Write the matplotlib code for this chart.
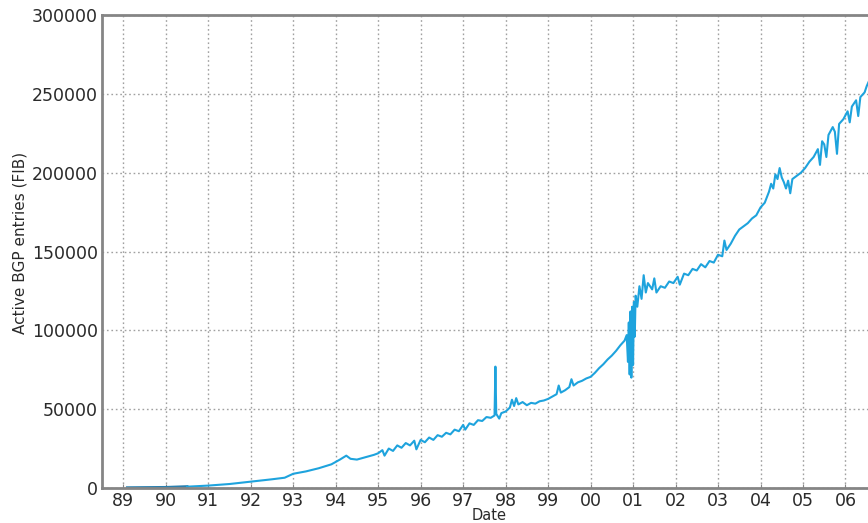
import matplotlib
matplotlib.use('Agg')
import matplotlib.pyplot as plt
import numpy as np

plt.rcParams['font.family'] = ['DejaVu Sans']

# Datos (año decimal, entradas BGP activas)
fechas = [
    1989.1, 1989.5, 1990.0, 1990.5, 1991.0, 1991.5, 1992.0, 1992.5, 1992.8,
    1993.0, 1993.3, 1993.6, 1993.9, 1994.1, 1994.25, 1994.35, 1994.5, 1994.7,
    1994.9, 1995.0, 1995.1, 1995.15, 1995.25, 1995.35, 1995.45, 1995.55,
    1995.65, 1995.75, 1995.85, 1995.9, 1996.0, 1996.1, 1996.2, 1996.3, 1996.4,
    1996.5, 1996.6, 1996.7, 1996.8, 1996.9, 1997.0, 1997.05, 1997.15, 1997.25,
    1997.35, 1997.45, 1997.55, 1997.65, 1997.74, 1997.76, 1997.78, 1997.85,
    1997.9, 1998.0, 1998.1, 1998.15, 1998.2, 1998.25, 1998.3, 1998.4, 1998.5,
    1998.6, 1998.7, 1998.8, 1998.9, 1999.0, 1999.1, 1999.2, 1999.25, 1999.3,
    1999.4, 1999.5, 1999.55, 1999.6, 1999.7, 1999.8, 1999.9, 2000.0, 2000.1,
    2000.2, 2000.3, 2000.4, 2000.5, 2000.6, 2000.7, 2000.8, 2000.85, 2000.88,
    2000.9, 2000.92, 2000.94, 2000.96, 2000.98, 2001.0, 2001.02, 2001.04,
    2001.06, 2001.1, 2001.15, 2001.2, 2001.25, 2001.3, 2001.35, 2001.45,
    2001.5, 2001.55, 2001.65, 2001.75, 2001.85, 2001.95, 2002.05, 2002.1,
    2002.2, 2002.3, 2002.4, 2002.5, 2002.6, 2002.7, 2002.8, 2002.9, 2003.0,
    2003.1, 2003.15, 2003.2, 2003.3, 2003.4, 2003.5, 2003.6, 2003.7, 2003.8,
    2003.9, 2004.0, 2004.1, 2004.2, 2004.25, 2004.3, 2004.35, 2004.4, 2004.45,
    2004.5, 2004.55, 2004.6, 2004.65, 2004.7, 2004.75, 2004.85, 2004.95,
    2005.05, 2005.15, 2005.25, 2005.35, 2005.4, 2005.45, 2005.5, 2005.55,
    2005.6, 2005.7, 2005.75, 2005.8, 2005.85, 2005.95, 2006.05, 2006.1,
    2006.15, 2006.25, 2006.3, 2006.35, 2006.45, 2006.5, 2006.55,
]
entradas = [
    100, 200, 300, 800, 1500, 2500, 4000, 5500, 6500,
    9000, 10500, 12500, 15000, 18000, 20500, 18500, 18000, 19500,
    21000, 22000, 24000, 20500, 25000, 23500, 27000, 25500,
    28500, 27000, 30000, 24500, 30500, 29000, 32000, 30500, 33500,
    32500, 35000, 34000, 37000, 36000, 40000, 37000, 41000, 40000,
    43000, 42500, 45000, 44500, 46000, 77000, 47000, 44000,
    47500, 48500, 51000, 56000, 52000, 57000, 53000, 54500, 52500,
    54000, 53500, 55000, 55500, 56500, 58000, 59500, 65000, 60500,
    62000, 64000, 69000, 65000, 67000, 68000, 69500, 70500, 73000,
    76000, 78500, 81500, 84000, 87000, 90500, 93500, 97000, 80000,
    105000, 72000, 112000, 70000, 115000, 78000, 118000, 96000,
    122000, 115000, 128000, 120000, 135000, 124000, 130000, 126000,
    133000, 124000, 128000, 127000, 131000, 130000, 134000, 129000,
    136000, 135000, 139000, 138000, 142000, 140000, 144000, 143000, 148000,
    147000, 157000, 151000, 155000, 160000, 164000, 166000, 168000, 171000,
    173000, 178000, 181000, 188000, 193000, 190000, 199000, 196000, 203000,
    197000, 194000, 190000, 195000, 187000, 196000, 198000, 200000,
    203000, 207000, 210000, 215000, 205000, 220000, 218000, 210000,
    224000, 229000, 226000, 212000, 231000, 234000, 239000, 232000,
    242000, 246000, 236000, 248000, 251000, 255000, 258000,
]

anios = list(range(1989, 2007))
etiquetas_x = ['%02d' % (a % 100) for a in anios]
ticks_y = [0, 50000, 100000, 150000, 200000, 250000, 300000]

fig = plt.figure(figsize=(8.68, 5.23), dpi=100)
ax = fig.add_axes([0.1175, 0.067, 0.8825, 0.904])

# tramo inicial más oscuro
n_ini = 4
ax.plot(fechas[:n_ini], entradas[:n_ini], color='#2a7fae', lw=2.2)
ax.plot(fechas[n_ini - 1:], entradas[n_ini - 1:], color='#1ea3dd', lw=1.5)

ax.set_xlim(1988.5, 2006.53)
ax.set_ylim(0, 300000)
ax.set_xticks(anios)
ax.set_xticklabels(etiquetas_x)
ax.set_yticks(ticks_y)
ax.set_yticklabels([str(v) for v in ticks_y])

ax.grid(True, color='#a0a0a0', linestyle=(0, (1.2, 2.0)), linewidth=1.0)
for s in ax.spines.values():
    s.set_color('#858585')
    s.set_linewidth(2)
ax.spines['right'].set_visible(False)
ax.tick_params(axis='both', direction='in', length=3, color='#858585',
               labelsize=12.5, labelcolor='#2a2a2a', pad=3)
ax.tick_params(axis='y', length=0)

ax.set_xlabel('Date', fontsize=10.5, color='#2a2a2a')
ax.xaxis.set_label_coords(0.506, -0.043)
ax.set_ylabel('Active BGP entries (FIB)', fontsize=11, color='#2a2a2a')
ax.yaxis.set_label_coords(-0.097, 0.518)

plt.savefig('out.png', dpi=100)
